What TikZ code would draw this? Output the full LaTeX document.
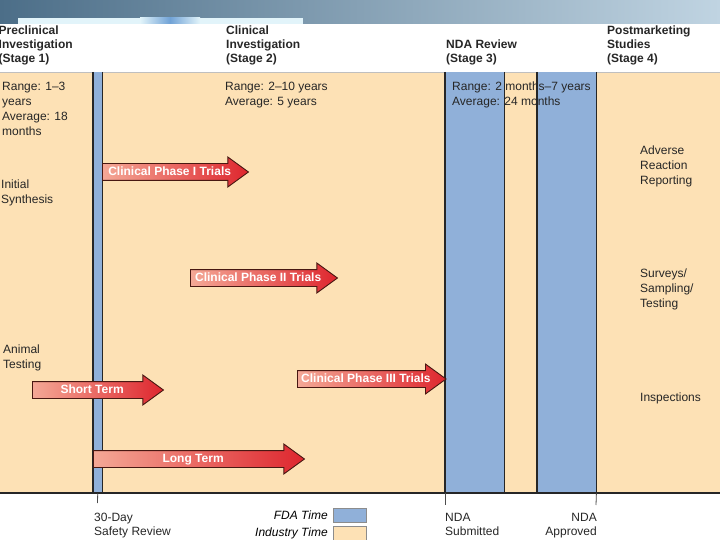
\documentclass[tikz,border=0pt]{standalone}
\usepackage{fontspec}
\setmainfont{Liberation Sans}
\usepackage{xcolor}
\usetikzlibrary{shapes.arrows, positioning}

\definecolor{industry}{RGB}{253,225,181}
\definecolor{fdablue}{RGB}{144,176,217}
\definecolor{trialred}{RGB}{222,38,46}
\definecolor{trialpink}{RGB}{244,168,150}
\definecolor{trialedge}{RGB}{72,24,18}
\definecolor{bannerdark}{RGB}{76,110,136}
\definecolor{bannerlight}{RGB}{192,212,226}
\definecolor{striplight}{RGB}{226,244,250}
\definecolor{stripblue}{RGB}{112,162,214}

\begin{document}
\begin{tikzpicture}[x=1pt, y=-1pt,
    txt/.style={anchor=base west, inner sep=0pt, align=left, text=black!85,
        font=\fontsize{12}{15}\selectfont},
    stage/.style={txt, font=\bfseries\fontsize{12}{14}\selectfont},
    foot/.style={txt, font=\fontsize{12}{14}\selectfont},
    fdabar/.style={fill=fdablue, inner sep=0pt, anchor=north west, minimum height=421pt},
    baredge/.style={draw=black!85, line width=1.2pt},
    trial/.style={single arrow, draw=trialedge, line width=0.9pt,
        left color=trialpink, right color=trialred,
        single arrow head extend=6.5pt, single arrow tip angle=72,
        text=white, font=\bfseries\fontsize{12}{14}\selectfont,
        text height=8.6pt, text depth=1.4pt, inner ysep=3pt, anchor=tail},
    keybox/.style={draw=black!45, minimum width=33pt, minimum height=14pt,
        inner sep=0pt, anchor=north west}
]
\useasboundingbox (0,0) rectangle (720,540);

% slide banner
\shade[left color=bannerdark, right color=bannerlight] (0,0) rectangle (720,24);
\fill[striplight] (18,18) rectangle (140,24);
\shade[left color=striplight, right color=stripblue] (140,18) rectangle (170,24);
\shade[left color=stripblue, right color=striplight] (170,18) rectangle (200,24);
\fill[striplight] (200,18) rectangle (303,24);

% industry time background
\fill[industry] (0,72) rectangle (720,493);
\draw[black!25] (0,72.5) -- (720,72.5);

% FDA time
\node[fdabar, minimum width=9pt] (safetybar) at (93,72) {};
\node[fdabar, minimum width=59pt] (submitbar) at (445,72) {};
\node[fdabar, minimum width=59pt] (approvebar) at (537,72) {};
\draw[baredge] (safetybar.north west) -- (safetybar.south west)
    (safetybar.north east) -- (safetybar.south east);
\draw[baredge] (submitbar.north west) -- (submitbar.south west)
    (submitbar.north east) -- (submitbar.south east);
\draw[baredge] (approvebar.north west) -- (approvebar.south west)
    (approvebar.north east) -- (approvebar.south east);
\draw[black!85, line width=1.2pt] (0,493) -- (720,493);

% stage headings (base = last line)
\node[stage] (stage1) at (-1.5,63) {Preclinical\\Investigation\\(Stage 1)};
\node[stage] (stage2) at (226,63) {Clinical\\Investigation\\(Stage 2)};
\node[stage] (stage3) at (446,63) {NDA Review\\(Stage 3)};
\node[stage] (stage4) at (607,63) {Postmarketing\\Studies\\(Stage 4)};

% durations
\node[txt] (range1) at (2,136) {Range: 1--3\\years\\Average: 18\\months};
\node[txt] (range2) at (225,106) {Range: 2--10 years\\Average: 5 years};
\node[txt] (range3) at (452,106) {Range: 2 months--7 years\\Average: 24 months};

\node[txt] (synthesis) at (1,204) {Initial\\Synthesis};
\node[txt] (animal) at (3,368) {Animal\\Testing};
\node[txt] (adverse) at (640,185) {Adverse\\Reaction\\Reporting};
\node[txt] (surveys) at (640,307) {Surveys/\\Sampling/\\Testing};
\node[txt] (inspect) at (640,401) {Inspections};

% trials
\node[trial, minimum height=146pt] (phase1) at (102,172) {Clinical Phase I Trials};
\node[trial, minimum height=147pt] (phase2) at (190,278) {Clinical Phase II Trials};
\node[trial, minimum height=147pt] (phase3) at (297,379) {Clinical Phase III Trials};
\node[trial, minimum height=131pt] (shortterm) at (32,390) {Short Term};
\node[trial, minimum height=211pt] (longterm) at (93,459) {Long Term};

% milestones
\node[foot] (safetytext) at (94,535) {30-Day\\Safety Review};
\node[foot] (submittext) at (445,535) {NDA\\Submitted};
\node[foot, anchor=base east, align=right] (approvetext) at (597,535) {NDA\\Approved};
\coordinate (safetytick) at (97.5,503);
\coordinate (submittick) at (445,505);
\coordinate (approvetick) at (596,505);
\draw[black!70, line width=0.8pt] (safetybar.south) -- (safetytick);
\draw[black!70, line width=0.8pt] (submitbar.south west) -- (submittick);
\draw[black!70, line width=0.8pt] (approvebar.south east) -- (approvetick);

% legend
\node[keybox, fill=fdablue] (fdakey) at (333,508) {};
\node[keybox, fill=industry] (industrykey) at (333,526) {};
\node[left=5pt of fdakey, inner sep=0pt, font=\itshape\fontsize{12}{14}\selectfont] (fdatext) {FDA Time};
\node[left=5pt of industrykey, inner sep=0pt, font=\itshape\fontsize{12}{14}\selectfont] (industrytext) {Industry Time};
\end{tikzpicture}
\end{document}
